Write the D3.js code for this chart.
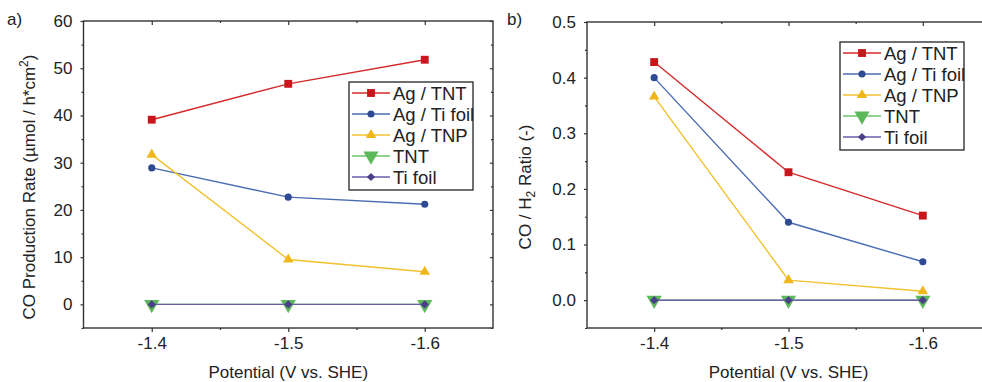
<!DOCTYPE html>
<html>
<head>
<meta charset="utf-8">
<script src="https://cdn.jsdelivr.net/npm/d3@7"></script>
<style>
  body { margin: 0; background: #fff; }
  svg { display: block; font-family: "Liberation Sans", Arial, sans-serif; }
</style>
</head>
<body>
<div id="chart"></div>
<script>
// data
const potentials = [-1.4, -1.5, -1.6];
const seriesNames = ["Ag / TNT", "Ag / Ti foil", "Ag / TNP", "TNT", "Ti foil"];

const rateAgTNT = [39.1, 46.7, 51.8];
const rateAgTiFoil = [28.9, 22.7, 21.2];
const rateAgTNP = [31.7, 9.5, 6.9];
const rateTNT = [0, 0, 0];
const rateTiFoil = [0, 0, 0];

const ratioAgTNT = [0.428, 0.230, 0.152];
const ratioAgTiFoil = [0.400, 0.140, 0.069];
const ratioAgTNP = [0.366, 0.036, 0.016];
const ratioTNT = [0, 0, 0];
const ratioTiFoil = [0, 0, 0];

const rateTicks = [0, 10, 20, 30, 40, 50, 60];
const ratioTicks = [0, 0.1, 0.2, 0.3, 0.4, 0.5];
const potentialTicks = [-1.4, -1.5, -1.6];

const width = 982;
const height = 382;

// style per series (same order as seriesNames)
const styles = [
  { line: "#d42a2a", fill: "#c8161d", symbol: d3.symbolSquare, size: 62, rot: 0 },
  { line: "#4a6cb3", fill: "#2d4a93", symbol: d3.symbolCircle, size: 40, rot: 0 },
  { line: "#f2c12e", fill: "#f0b71c", symbol: d3.symbolTriangle, size: 48, rot: 0 },
  { line: "#6cc36a", fill: "#5cb85a", symbol: d3.symbolTriangle, size: 100, rot: 180 },
  { line: "#6b5fa8", fill: "#4b3f8c", symbol: d3.symbolSquare, size: 34, rot: 45 }
];

const svg = d3.select("#chart").append("svg")
  .attr("width", width)
  .attr("height", height);

// plain hyphen instead of the unicode minus
const hyphen = f => d => f(d).replace("\u2212", "-");

function drawPanel(opt) {
  const x = d3.scaleLinear().domain([-1.35, -1.65]).range(opt.xRange);
  const y = d3.scaleLinear().domain(opt.yDomain).range([328, opt.top]);
  const g = svg.append("g");
  const [x0, x1] = opt.xRange;

  // frame
  g.append("rect")
    .attr("x", x0).attr("y", opt.top)
    .attr("width", x1 - x0).attr("height", 328 - opt.top)
    .attr("fill", "none").attr("stroke", "#333").attr("stroke-width", 1.4);

  // bottom axis
  const bottom = g.append("g").attr("transform", "translate(0,328)")
    .call(d3.axisBottom(x).tickValues(potentialTicks).tickFormat(hyphen(d3.format(".1f")))
      .tickSize(4).tickPadding(5).tickSizeOuter(0));
  bottom.append("g")
    .call(d3.axisBottom(x).tickValues([-1.45, -1.55]).tickFormat("").tickSize(2).tickSizeOuter(0));
  // top axis, ticks inward
  g.append("g").attr("transform", `translate(0,${opt.top})`)
    .call(d3.axisTop(x).tickValues(potentialTicks).tickFormat("").tickSize(-4).tickSizeOuter(0));
  g.append("g").attr("transform", `translate(0,${opt.top})`)
    .call(d3.axisTop(x).tickValues([-1.45, -1.55]).tickFormat("").tickSize(-2).tickSizeOuter(0));

  // left axis
  g.append("g").attr("transform", `translate(${x0},0)`)
    .call(d3.axisLeft(y).tickValues(opt.yTicks).tickFormat(opt.yFormat)
      .tickSize(3).tickPadding(8).tickSizeOuter(0));
  g.append("g").attr("transform", `translate(${x0},0)`)
    .call(d3.axisLeft(y).tickValues(opt.yMinor).tickFormat("").tickSize(2).tickSizeOuter(0));
  // right axis, ticks inward
  g.append("g").attr("transform", `translate(${x1},0)`)
    .call(d3.axisRight(y).tickValues(opt.yTicks).tickFormat("").tickSize(-3).tickSizeOuter(0));
  g.append("g").attr("transform", `translate(${x1},0)`)
    .call(d3.axisRight(y).tickValues(opt.yMinor).tickFormat("").tickSize(-2).tickSizeOuter(0));

  g.selectAll(".domain").remove();
  g.selectAll(".tick line").attr("stroke", "#333").attr("stroke-width", 1.2);
  g.selectAll(".tick text").attr("font-size", 17).attr("fill", "#222")
    .attr("font-family", "'Liberation Sans', Arial, sans-serif");

  // series
  const line = d3.line().x((d, i) => x(potentials[i])).y(d => y(d));
  opt.series.forEach((vals, k) => {
    const s = styles[k];
    g.append("path").datum(vals)
      .attr("d", line)
      .attr("fill", "none").attr("stroke", s.line).attr("stroke-width", 1.4);
    g.selectAll(null).data(vals).join("path")
      .attr("d", d3.symbol(s.symbol, s.size))
      .attr("transform", (d, i) => `translate(${x(potentials[i])},${y(d)}) rotate(${s.rot})`)
      .attr("fill", s.fill);
  });

  // legend
  const lg = g.append("g").attr("transform", `translate(${opt.legend[0]},${opt.legend[1]})`);
  lg.append("rect")
    .attr("width", 124).attr("height", 108)
    .attr("fill", "#fff").attr("stroke", "#333").attr("stroke-width", 1.4);
  seriesNames.forEach((name, k) => {
    const s = styles[k];
    const ry = 11 + k * 21;
    lg.append("line").attr("x1", 3).attr("x2", 41).attr("y1", ry).attr("y2", ry)
      .attr("stroke", s.line).attr("stroke-width", 1.4);
    lg.append("path")
      .attr("d", d3.symbol(s.symbol, s.size))
      .attr("transform", `translate(22,${ry}) rotate(${s.rot})`)
      .attr("fill", s.fill);
    lg.append("text").attr("x", 44).attr("y", ry + 6.5)
      .attr("font-size", 18.5).attr("fill", "#222").text(name);
  });

  // panel letter
  svg.append("text").attr("x", opt.letter).attr("y", 25)
    .attr("font-size", 17).attr("fill", "#222").text(opt.letterText);

  // x title, centred on the -1.5 tick
  svg.append("text")
    .attr("x", x(-1.5))
    .attr("y", 378).attr("text-anchor", "middle")
    .attr("font-size", 17).attr("fill", "#222").text("Potential (V vs. SHE)");

  // y title
  const yt = svg.append("text")
    .attr("transform", `translate(${opt.yTitleX},187) rotate(-90)`)
    .attr("text-anchor", "middle").attr("font-size", 17).attr("fill", "#222");
  opt.yTitle(yt);
}

drawPanel({
  xRange: [83.5, 493],
  top: 21,
  yDomain: [-5, 60],
  yTicks: rateTicks,
  yMinor: [-5, 5, 15, 25, 35, 45, 55],
  yFormat: d3.format("d"),
  series: [rateAgTNT, rateAgTiFoil, rateAgTNP, rateTNT, rateTiFoil],
  legend: [349, 82],
  letter: 7,
  letterText: "a)",
  yTitleX: 35,
  yTitle: t => {
    t.append("tspan").text("CO Production Rate (µmol / h*cm");
    t.append("tspan").attr("dy", -7).attr("font-size", 12).text("2");
    t.append("tspan").attr("dy", 7).text(")");
  }
});

drawPanel({
  xRange: [587, 990],
  top: 22,
  yDomain: [-0.05, 0.5],
  yTicks: ratioTicks,
  yMinor: [-0.05, 0.05, 0.15, 0.25, 0.35, 0.45],
  yFormat: d3.format(".1f"),
  series: [ratioAgTNT, ratioAgTiFoil, ratioAgTNP, ratioTNT, ratioTiFoil],
  legend: [840, 42],
  letter: 507,
  letterText: "b)",
  yTitleX: 531,
  yTitle: t => {
    t.append("tspan").text("CO / H");
    t.append("tspan").attr("dy", 4).attr("font-size", 12).text("2");
    t.append("tspan").attr("dy", -4).text(" Ratio (-)");
  }
});
</script>
</body>
</html>
